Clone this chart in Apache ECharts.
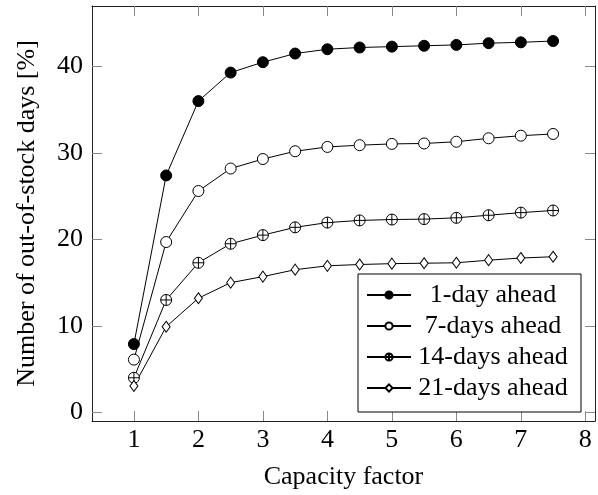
<!DOCTYPE html>
<html>
<head>
<meta charset="utf-8">
<script src="https://cdn.jsdelivr.net/npm/echarts@6/dist/echarts.min.js"></script>
<style>
html,body{margin:0;padding:0;background:#fff;}
#chart{width:598px;height:495px;}
</style>
</head>
<body>
<div id="chart"></div>
<script>
var capacity = [1, 1.5, 2, 2.5, 3, 3.5, 4, 4.5, 5, 5.5, 6, 6.5, 7, 7.5];
var oneDay = [7.9, 27.4, 36.0, 39.3, 40.5, 41.5, 42.0, 42.2, 42.3, 42.4, 42.5, 42.7, 42.8, 42.95];
var sevenDays = [6.1, 19.7, 25.6, 28.2, 29.3, 30.2, 30.7, 30.9, 31.05, 31.1, 31.3, 31.7, 32.0, 32.2];
var fourteenDays = [4.0, 13.0, 17.3, 19.5, 20.5, 21.4, 21.95, 22.2, 22.3, 22.35, 22.5, 22.8, 23.1, 23.35];
var twentyOneDays = [3.05, 9.9, 13.2, 15.0, 15.7, 16.5, 16.95, 17.1, 17.2, 17.25, 17.3, 17.6, 17.85, 18.0];
var xTicks = [1, 2, 3, 4, 5, 6, 7, 8];
var yTicks = [0, 10, 20, 30, 40];
var names = ['1-day ahead', '7-days ahead', '14-days ahead', '21-days ahead'];

var font = 'Liberation Serif';
var oplus = 'path://M10,0A10,10 0 1,1 10,20A10,10 0 1,1 10,0ZM0,10L20,10M10,0L10,20';

function pairs(ys) {
    var out = [];
    for (var i = 0; i < capacity.length; i++) {
        out.push([capacity[i], ys[i]]);
    }
    return out;
}

function mkSeries(name, ys, symbol, size, fill) {
    return {
        name: name,
        type: 'line',
        data: pairs(ys),
        symbol: symbol,
        symbolSize: size,
        showAllSymbol: true,
        lineStyle: {color: '#000', width: 1},
        itemStyle: {color: fill, borderColor: '#000', borderWidth: 1},
        emphasis: {disabled: true},
        animation: false
    };
}

var tick = {show: true, inside: true, length: 10, lineStyle: {color: '#888', width: 1}};

function xAx(pos, labels) {
    return {
        type: 'value', position: pos, min: 0.35, max: 8.15,
        splitLine: {show: false},
        axisLine: {show: true, onZero: false, lineStyle: {color: '#222', width: 1}},
        axisTick: Object.assign({customValues: xTicks}, tick),
        axisLabel: {show: labels, customValues: xTicks, color: '#000', fontFamily: font, fontSize: 26, margin: 6},
        name: labels ? 'Capacity factor' : '',
        nameLocation: 'middle', nameGap: 43,
        nameTextStyle: {color: '#000', fontFamily: font, fontSize: 26}
    };
}
function yAx(pos, labels) {
    return {
        type: 'value', position: pos, min: -1, max: 47,
        splitLine: {show: false},
        axisLine: {show: true, onZero: false, lineStyle: {color: '#222', width: 1}},
        axisTick: Object.assign({customValues: yTicks}, tick),
        axisLabel: {show: labels, customValues: yTicks, color: '#000', fontFamily: font, fontSize: 26, margin: 9},
        name: labels ? 'Number of out-of-stock days [%]' : '',
        nameLocation: 'middle', nameGap: 52,
        nameTextStyle: {color: '#000', fontFamily: font, fontSize: 26}
    };
}

var chart = echarts.init(document.getElementById('chart'));
chart.setOption({
    animation: false,
    backgroundColor: '#fff',
    grid: {left: 92, right: 3, top: 6, bottom: 71},
    xAxis: [xAx('bottom', true), xAx('top', false)],
    yAxis: [yAx('left', true), yAx('right', false)],
    legend: {
        data: names,
        orient: 'vertical',
        left: 358, top: 274,
        backgroundColor: '#fff',
        borderColor: '#000', borderWidth: 1,
        padding: [8, 11, 11, 8],
        itemGap: 5,
        itemWidth: 44, itemHeight: 9,
        formatter: '{t|{name}}',
        textStyle: {
            color: '#000', fontFamily: font, fontSize: 26,
            rich: {t: {width: 154, align: 'center', fontFamily: font, fontSize: 26, lineHeight: 26, color: '#000'}}
        }
    },
    series: [
        mkSeries(names[0], oneDay, 'circle', 11, '#000'),
        mkSeries(names[1], sevenDays, 'circle', 11, '#fff'),
        mkSeries(names[2], fourteenDays, oplus, 11, '#fff'),
        mkSeries(names[3], twentyOneDays, 'diamond', [8, 11], '#fff')
    ]
});
</script>
</body>
</html>
